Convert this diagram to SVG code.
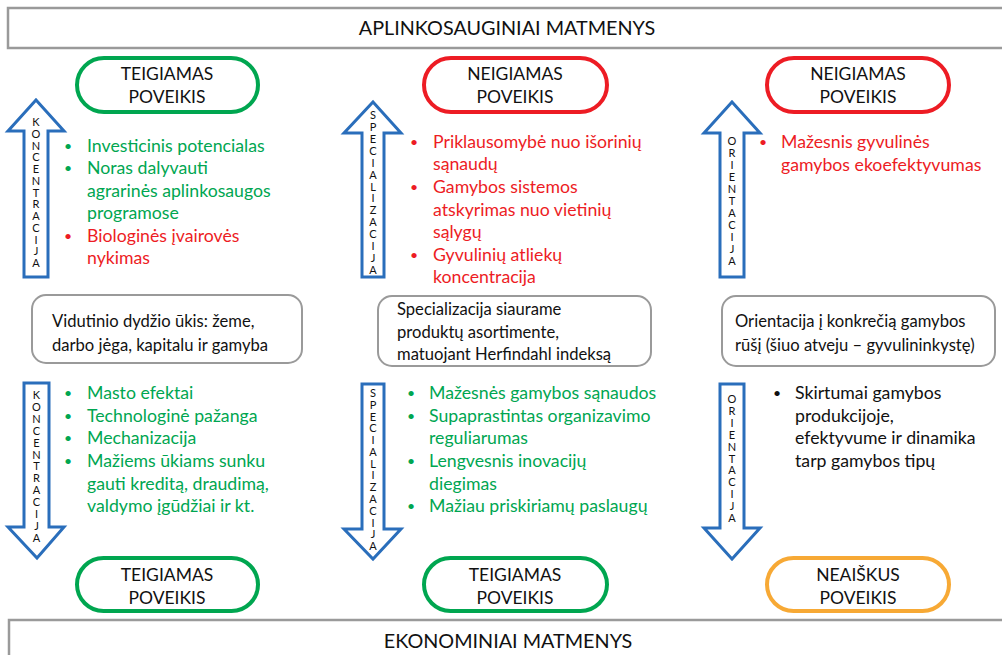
<svg xmlns="http://www.w3.org/2000/svg" width="1002" height="655" viewBox="0 0 1002 655">
<style>
text{font-family:Lato,"Liberation Sans","Noto Sans",sans-serif;}
.band{fill:#fff;stroke:#9a9a9a;stroke-width:2.5;}
.bandt{font-size:19.8px;fill:#111;text-anchor:middle;}
.pill{fill:#fff;stroke-width:4;}
.pg{stroke:#00a650;}
.pr{stroke:#ed1c24;}
.po{stroke:#f7a935;}
.pt{font-size:17.5px;fill:#111;text-anchor:middle;}
.arr{fill:#fff;stroke:#2a6ebb;stroke-width:3;stroke-linejoin:miter;}
.lt{font-size:11px;fill:#111;text-anchor:middle;}
.box{fill:#fff;stroke:#9a9a9a;stroke-width:2;}
.bt{font-size:16.6px;fill:#111;}
.g{font-size:17.7px;fill:#00a651;}
.r{font-size:17.7px;fill:#ed1c24;}
.k{font-size:17.7px;fill:#111;}
.b{font-size:14px;}
</style>
<g id="env-band">
<rect class="band" x="8" y="8" width="1000" height="40"/>
<text class="bandt" x="507" y="35">APLINKOSAUGINIAI MATMENYS</text>
</g>
<g id="econ-band">
<rect class="band" x="9" y="620" width="1000" height="50"/>
<text class="bandt" x="508" y="648">EKONOMINIAI MATMENYS</text>
</g>
<g id="pill-top-1"><rect class="pill pg" x="77" y="58" width="181" height="54" rx="27"/><text class="pt" x="167" y="80">TEIGIAMAS</text><text class="pt" x="167" y="103">POVEIKIS</text></g>
<g id="pill-top-2"><rect class="pill pr" x="424" y="58" width="183" height="54" rx="27"/><text class="pt" x="515" y="80">NEIGIAMAS</text><text class="pt" x="515" y="103">POVEIKIS</text></g>
<g id="pill-top-3"><rect class="pill pr" x="767" y="58" width="182" height="54" rx="27"/><text class="pt" x="858" y="80">NEIGIAMAS</text><text class="pt" x="858" y="103">POVEIKIS</text></g>
<g id="pill-bot-1"><rect class="pill pg" x="77" y="558" width="181" height="53" rx="26.5"/><text class="pt" x="167" y="581">TEIGIAMAS</text><text class="pt" x="167" y="604">POVEIKIS</text></g>
<g id="pill-bot-2"><rect class="pill pg" x="424" y="558" width="183" height="53" rx="26.5"/><text class="pt" x="515" y="581">TEIGIAMAS</text><text class="pt" x="515" y="604">POVEIKIS</text></g>
<g id="pill-bot-3"><rect class="pill po" x="767" y="558" width="182" height="53" rx="26.5"/><text class="pt" x="858" y="581">NEAIŠKUS</text><text class="pt" x="858" y="604">POVEIKIS</text></g>

<g id="connectors">
<g id="arrow-up-1"><polygon class="arr" points="36,100 64,131 48,131 48,277 24,277 24,131 8,131"/>
<text class="lt" x="36 36 36 36 36 36 36 36 36 36 36 36 36" y="126 137.8 149.5 161.3 173 184.8 196.5 208.3 220 231.8 243.5 255.3 267">KONCENTRACIJA</text></g>
<g id="arrow-down-1"><polygon class="arr" points="24,383 49,383 49,527 64,527 37,558 8,527 24,527"/>
<text class="lt" x="36.5 36.5 36.5 36.5 36.5 36.5 36.5 36.5 36.5 36.5 36.5 36.5 36.5" y="399 410.9 422.8 434.7 446.6 458.5 470.4 482.3 494.2 506.1 518 529.9 541.8">KONCENTRACIJA</text></g>
<g id="arrow-up-2"><polygon class="arr" points="373,102 401,133 384,133 384,277 362,277 362,133 344,133"/>
<text class="lt" x="373 373 373 373 373 373 373 373 373 373 373 373 373 373" y="119 130.9 142.8 154.8 166.7 178.6 190.5 202.4 214.4 226.3 238.2 250.1 262 274">SPECIALIZACIJA</text></g>
<g id="arrow-down-2"><polygon class="arr" points="362,384 384,384 384,529 401,529 373,559 344,529 362,529"/>
<text class="lt" x="373 373 373 373 373 373 373 373 373 373 373 373 373 373" y="397 408.8 420.5 432.3 444.1 455.9 467.6 479.4 491.2 502.9 514.7 526.5 538.2 550">SPECIALIZACIJA</text></g>
<g id="arrow-up-3"><polygon class="arr" points="732,102 760,133 744,133 744,277 720,277 720,133 704,133"/>
<text class="lt" x="732 732 732 732 732 732 732 732 732 732 732" y="145 157 169 181 193 205 217 229 241 253 265">ORIENTACIJA</text></g>
<g id="arrow-down-3"><polygon class="arr" points="720,384 744,384 744,528 760,528 732,559 704,528 720,528"/>
<text class="lt" x="732 732 732 732 732 732 732 732 732 732 732" y="403 414.9 426.8 438.7 450.6 462.5 474.4 486.3 498.2 510.1 522">ORIENTACIJA</text></g>
</g>

<g id="box-1"><rect class="box" x="32" y="295" width="270" height="68" rx="14"/>
<text class="bt" x="52" y="327">Vidutinio dydžio ūkis: žeme,</text>
<text class="bt" x="52" y="351">darbo jėga, kapitalu ir gamyba</text></g>
<g id="box-2"><rect class="box" x="378" y="296" width="273" height="70" rx="14"/>
<text class="bt" x="397" y="315">Specializacija siaurame</text>
<text class="bt" x="397" y="338">produktų asortimente,</text>
<text class="bt" x="397" y="360">matuojant Herfindahl indeksą</text></g>
<g id="box-3"><rect class="box" x="722" y="296" width="273" height="70" rx="14"/>
<text class="bt" x="735" y="327">Orientacija į konkrečią gamybos</text>
<text class="bt" x="735" y="351">rūšį (šiuo atveju – gyvulininkystę)</text></g>

<g id="list-top-1">
<text class="g b" x="64" y="151">•</text><text class="g" x="87" y="152">Investicinis potencialas</text>
<text class="g b" x="64" y="173">•</text><text class="g" x="87" y="174">Noras dalyvauti</text>
<text class="g" x="87" y="197">agrarinės aplinkosaugos</text>
<text class="g" x="87" y="219">programose</text>
<text class="r b" x="64" y="241">•</text><text class="r" x="87" y="242">Biologinės įvairovės</text>
<text class="r" x="87" y="264">nykimas</text>
</g>
<g id="list-top-2">
<text class="r b" x="410" y="147">•</text><text class="r" x="433" y="148">Priklausomybė nuo išorinių</text>
<text class="r" x="433" y="170">sąnaudų</text>
<text class="r b" x="410" y="192">•</text><text class="r" x="433" y="193">Gamybos sistemos</text>
<text class="r" x="433" y="216">atskyrimas nuo vietinių</text>
<text class="r" x="433" y="238">sąlygų</text>
<text class="r b" x="410" y="260">•</text><text class="r" x="433" y="261">Gyvulinių atliekų</text>
<text class="r" x="433" y="283">koncentracija</text>
</g>
<g id="list-top-3">
<text class="r b" x="759" y="147">•</text><text class="r" x="781" y="148">Mažesnis gyvulinės</text>
<text class="r" x="781" y="171">gamybos ekoefektyvumas</text>
</g>
<g id="list-bot-1">
<text class="g b" x="64" y="398">•</text><text class="g" x="87" y="399">Masto efektai</text>
<text class="g b" x="64" y="421">•</text><text class="g" x="87" y="422">Technologinė pažanga</text>
<text class="g b" x="64" y="443">•</text><text class="g" x="87" y="444">Mechanizacija</text>
<text class="g b" x="64" y="466">•</text><text class="g" x="87" y="467">Mažiems ūkiams sunku</text>
<text class="g" x="87" y="490">gauti kreditą, draudimą,</text>
<text class="g" x="87" y="512">valdymo įgūdžiai ir kt.</text>
</g>
<g id="list-bot-2">
<text class="g b" x="407" y="398">•</text><text class="g" x="429" y="399">Mažesnės gamybos sąnaudos</text>
<text class="g b" x="407" y="421">•</text><text class="g" x="429" y="422">Supaprastintas organizavimo</text>
<text class="g" x="429" y="444">reguliarumas</text>
<text class="g b" x="407" y="466">•</text><text class="g" x="429" y="467">Lengvesnis inovacijų</text>
<text class="g" x="429" y="490">diegimas</text>
<text class="g b" x="407" y="511">•</text><text class="g" x="429" y="512">Mažiau priskiriamų paslaugų</text>
</g>
<g id="list-bot-3">
<text class="k b" x="773" y="398">•</text><text class="k" x="795" y="399">Skirtumai gamybos</text>
<text class="k" x="795" y="422">produkcijoje,</text>
<text class="k" x="795" y="444">efektyvume ir dinamika</text>
<text class="k" x="795" y="467">tarp gamybos tipų</text>
</g>
</svg>
